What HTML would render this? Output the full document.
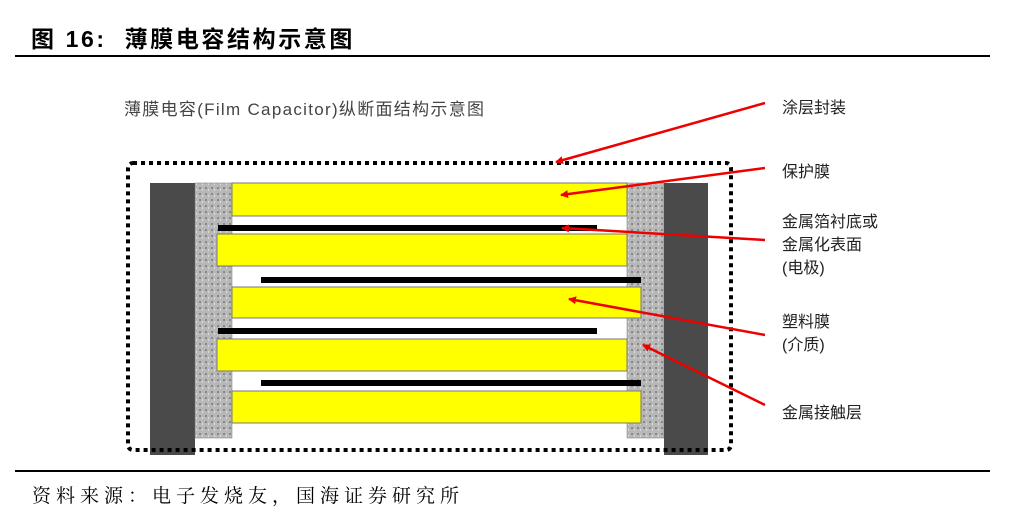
<!DOCTYPE html>
<html><head><meta charset="utf-8"><style>
body{margin:0;width:1012px;height:529px;background:#fff;position:relative;overflow:hidden;font-family:"Liberation Sans","Noto Sans CJK SC",sans-serif}
.a{position:absolute;white-space:nowrap}
.lab{position:absolute;font-size:16px;color:#222;line-height:23px}
</style></head><body>
<div class="a" style="left:31px;top:20px;font-size:23px;font-weight:bold;letter-spacing:2.6px">图 16:&nbsp; 薄膜电容结构示意图</div>
<div class="a" style="left:15px;top:55px;width:975px;height:2px;background:#000"></div>
<div class="a" style="left:124px;top:95px;font-size:17px;color:#444;letter-spacing:1.3px">薄膜电容(Film Capacitor)纵断面结构示意图</div>
<svg class="a" style="left:0;top:0" width="1012" height="529">
<defs><marker id="m" markerWidth="8" markerHeight="8" refX="7" refY="4" orient="auto" markerUnits="userSpaceOnUse"><path d="M0,0L8,4L0,8z" fill="#e00"/></marker>
<pattern id="g" width="6" height="6" patternUnits="userSpaceOnUse"><rect width="6" height="6" fill="#b8b8b8"/><rect x="1" y="1" width="2" height="2" fill="#888"/><rect x="4" y="3" width="1" height="2" fill="#ddd"/></pattern></defs>
<rect x="150" y="183" width="45" height="272" fill="#4a4a4a"/>
<rect x="195" y="183" width="37" height="255" fill="url(#g)" stroke="#777" stroke-width="0.5"/>
<rect x="627" y="183" width="37" height="255" fill="url(#g)" stroke="#777" stroke-width="0.5"/>
<rect x="664" y="183" width="44" height="272" fill="#4a4a4a"/>
<g fill="#ffff00" stroke="#777" stroke-width="1">
<rect x="232" y="183" width="395" height="33"/>
<rect x="217" y="234" width="410" height="32"/>
<rect x="232" y="287" width="409" height="31"/>
<rect x="217" y="339" width="410" height="32"/>
<rect x="232" y="391" width="409" height="32"/>
</g>
<g fill="#000">
<rect x="218" y="225" width="379" height="6"/>
<rect x="261" y="277" width="380" height="6"/>
<rect x="218" y="328" width="379" height="6"/>
<rect x="261" y="380" width="380" height="6"/>
</g>
<rect x="128" y="163" width="603" height="287" rx="5" fill="none" stroke="#000" stroke-width="4" stroke-dasharray="4,4"/>
<g stroke="#e00" stroke-width="2.5" marker-end="url(#m)">
<line x1="765" y1="103" x2="556" y2="162"/>
<line x1="765" y1="168" x2="561" y2="195"/>
<line x1="765" y1="240" x2="562" y2="228"/>
<line x1="765" y1="335" x2="569" y2="299"/>
<line x1="765" y1="405" x2="643" y2="345"/>
</g>
</svg>
<div class="lab" style="left:782px;top:97px">涂层封装</div>
<div class="lab" style="left:782px;top:161px">保护膜</div>
<div class="lab" style="left:782px;top:211px">金属箔衬底或<br>金属化表面<br>(电极)</div>
<div class="lab" style="left:782px;top:311px">塑料膜<br>(介质)</div>
<div class="lab" style="left:782px;top:402px">金属接触层</div>
<div class="a" style="left:15px;top:470px;width:975px;height:1.5px;background:#000"></div>
<div class="a" style="left:32px;top:481px;font-size:19px;letter-spacing:5px;font-family:'Noto Serif CJK SC','Liberation Serif',serif">资料来源：电子发烧友，国海证券研究所</div>
</body></html>
